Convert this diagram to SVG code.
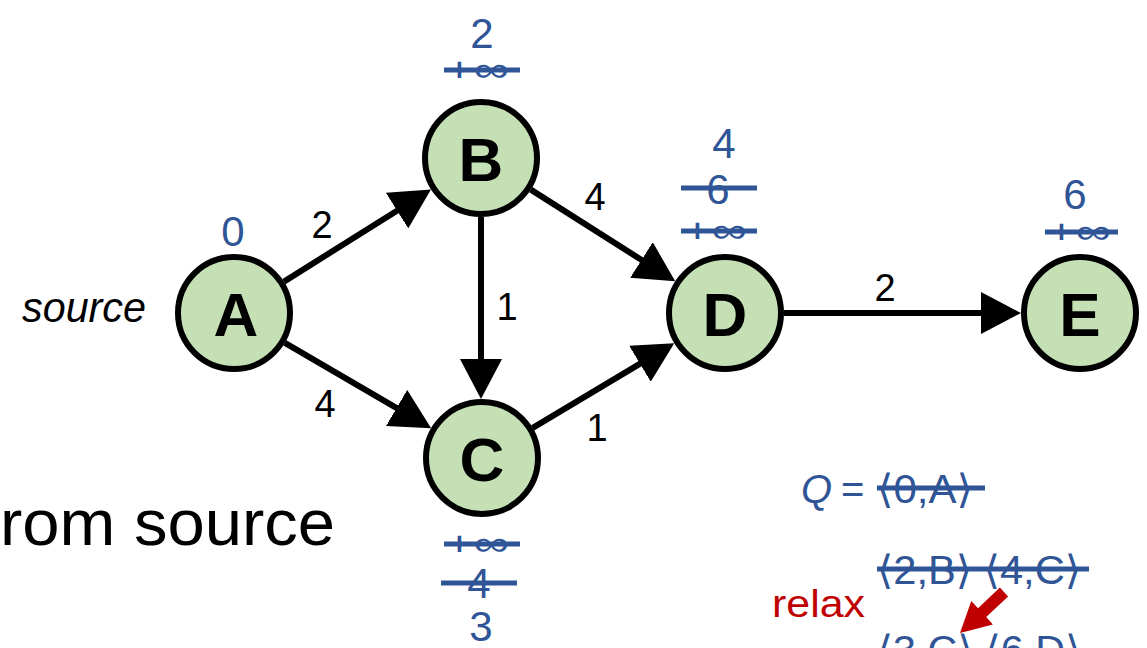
<svg xmlns="http://www.w3.org/2000/svg" width="1147" height="648" viewBox="0 0 1147 648">
<style>
.node{fill:#C5E0B4;stroke:#000;stroke-width:6}
.lbl{font-family:"Liberation Sans","DejaVu Sans",sans-serif;font-weight:bold;font-size:62px;fill:#000;text-anchor:middle}
.edge{stroke:#000;stroke-width:6;fill:none;marker-end:url(#ah)}
.w{font-family:"Liberation Sans","DejaVu Sans",sans-serif;font-size:38px;fill:#000;text-anchor:middle}
.b{font-family:"Liberation Sans","DejaVu Sans",sans-serif;font-size:42px;fill:#2F5597;text-anchor:middle}
.inf{font-family:"Liberation Sans","DejaVu Sans",sans-serif;font-size:34px;fill:#2F5597;text-anchor:middle}
.q{font-family:"Liberation Sans","DejaVu Sans",sans-serif;font-size:40px;fill:#2F5597}
.s{stroke:#2F5597;stroke-width:5}
</style>
<defs>
<marker id="ah" markerUnits="userSpaceOnUse" viewBox="0 0 40 42" markerWidth="40" markerHeight="42" refX="30" refY="21" orient="auto">
<path d="M0,0 L40,21 L0,42 z" fill="#000"/>
</marker>
</defs>
<rect width="1147" height="648" fill="#fff"/>
<g id="connectors">
<path class="edge" d="M284,281.6 L422.5,194.7"/>
<path class="edge" d="M284.9,342.8 L422.5,423.1"/>
<path class="edge" d="M481,217 L481,389"/>
<path class="edge" d="M530.8,189.6 L666.8,276"/>
<path class="edge" d="M532.7,427.8 L665.7,348.3"/>
<path class="edge" d="M784,313 L1011,313"/>
<text class="w" x="322" y="238">2</text>
<text class="w" x="325" y="417">4</text>
<text class="w" x="507" y="320">1</text>
<text class="w" x="595" y="210">4</text>
<text class="w" x="597" y="441">1</text>
<text class="w" x="885" y="301">2</text>
</g>
<g id="node-A"><circle class="node" cx="234" cy="313" r="56"/><text class="lbl" x="236" y="336">A</text></g>
<g id="node-B"><circle class="node" cx="481" cy="158" r="56"/><text class="lbl" x="481" y="181">B</text></g>
<g id="node-C"><circle class="node" cx="482" cy="458" r="56"/><text class="lbl" x="482" y="481">C</text></g>
<g id="node-D"><circle class="node" cx="725" cy="313" r="56"/><text class="lbl" x="725" y="336">D</text></g>
<g id="node-E"><circle class="node" cx="1080" cy="313" r="56"/><text class="lbl" x="1080" y="336">E</text></g>
<g id="distances">
<text class="b" x="233" y="246">0</text>
<text class="b" x="482" y="48">2</text>
<text class="inf" x="477" y="81" textLength="64" lengthAdjust="spacingAndGlyphs">+∞</text>
<line class="s" x1="444" y1="70" x2="520" y2="70"/>
<text class="b" x="724" y="158">4</text>
<text class="b" x="718" y="204">6</text>
<line class="s" x1="681" y1="188" x2="757" y2="188"/>
<text class="inf" x="715" y="242" textLength="64" lengthAdjust="spacingAndGlyphs">+∞</text>
<line class="s" x1="681" y1="231" x2="757" y2="231"/>
<text class="b" x="1075" y="209">6</text>
<text class="inf" x="1079" y="243" textLength="64" lengthAdjust="spacingAndGlyphs">+∞</text>
<line class="s" x1="1045" y1="232" x2="1118" y2="232"/>
<text class="inf" x="477" y="555" textLength="64" lengthAdjust="spacingAndGlyphs">+∞</text>
<line class="s" x1="444" y1="544" x2="520" y2="544"/>
<text class="b" x="479" y="598">4</text>
<line class="s" x1="441" y1="583" x2="517" y2="583"/>
<text class="b" x="481" y="641">3</text>
</g>
<text x="22" y="322" font-family="Liberation Sans, DejaVu Sans, sans-serif" font-style="italic" font-size="42" textLength="124" lengthAdjust="spacingAndGlyphs">source</text>
<text x="0" y="545" font-family="Liberation Sans, DejaVu Sans, sans-serif" font-size="64" textLength="335" lengthAdjust="spacingAndGlyphs">rom source</text>
<g id="queue">
<text class="q" x="801" y="503" font-style="italic">Q</text>
<text class="q" x="841" y="503">=</text>
<text class="q" x="877" y="503" textLength="96" lengthAdjust="spacingAndGlyphs">⟨0,A⟩</text>
<line class="s" x1="877" y1="488" x2="985" y2="488"/>
<text class="q" x="877" y="584" textLength="204" lengthAdjust="spacingAndGlyphs">⟨2,B⟩ ⟨4,C⟩</text>
<line class="s" x1="877" y1="569" x2="1089" y2="569"/>
<text class="q" x="877" y="664" textLength="204" lengthAdjust="spacingAndGlyphs">⟨3,C⟩ ⟨6,D⟩</text>
<text x="772" y="617" font-family="Liberation Sans, DejaVu Sans, sans-serif" font-size="38" fill="#C00000" textLength="93" lengthAdjust="spacingAndGlyphs">relax</text>
<polygon fill="#C00000" points="1008.1,596.4 986.2,617.1 992.9,624.5 960,633 971.3,600.9 978,608.3 999.9,587.6"/>
</g>
</svg>
